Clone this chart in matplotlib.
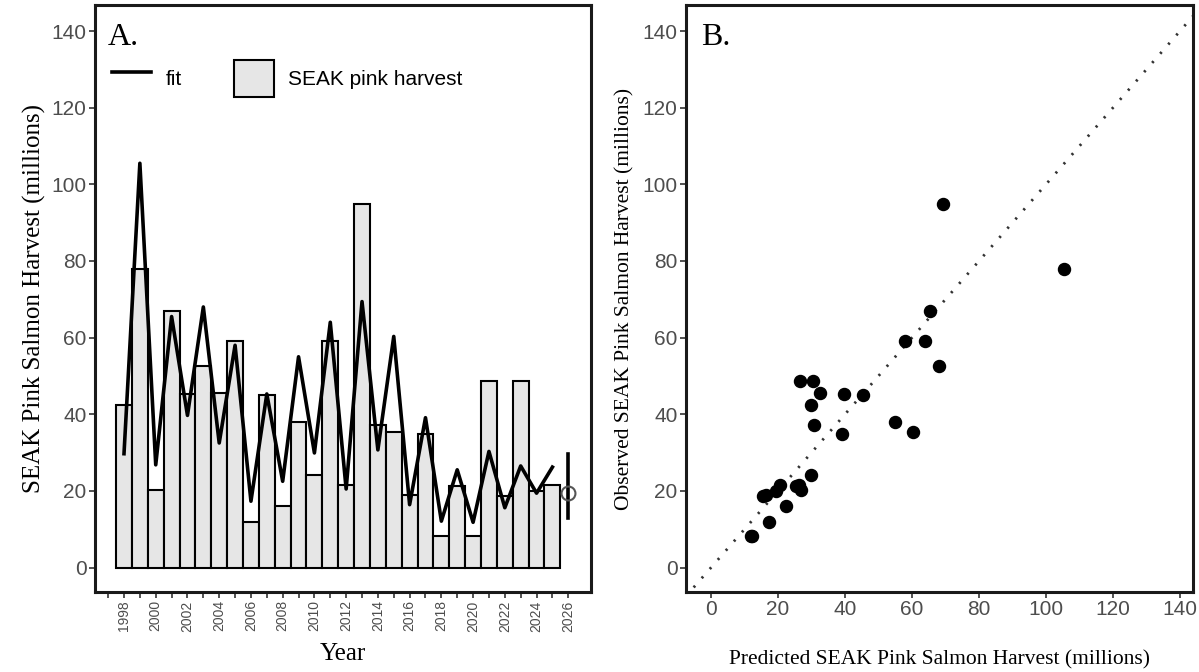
import matplotlib
matplotlib.use("Agg")
import matplotlib.pyplot as plt
from matplotlib.lines import Line2D
from matplotlib.patches import Patch
import numpy as np

# harvest (millions) and model fit, 1998-2025, plus 2026 forecast
years = [1998, 1999, 2000, 2001, 2002, 2003, 2004, 2005, 2006, 2007,
         2008, 2009, 2010, 2011, 2012, 2013, 2014, 2015, 2016, 2017,
         2018, 2019, 2020, 2021, 2022, 2023, 2024, 2025]
harvest = [42.5, 78.0, 20.3, 67.0, 45.3, 52.5, 45.5, 59.2, 11.8, 44.9,
           16.0, 38.1, 24.2, 59.0, 21.5, 94.9, 37.3, 35.3, 18.8, 34.8,
           8.2, 21.4, 8.2, 48.6, 18.6, 48.6, 19.9, 21.5]
fit = [29.7, 105.5, 26.8, 65.5, 39.7, 68.0, 32.5, 58.0, 17.3, 45.3,
       22.5, 55.0, 29.9, 64.0, 20.5, 69.4, 30.7, 60.3, 16.4, 39.1,
       12.1, 25.5, 11.8, 30.3, 15.6, 26.5, 19.4, 26.2]
fc_year = 2026
fc_mean = 19.5
fc_lo = 13.0
fc_hi = 29.7

year_ticks = list(range(1997, 2027))
year_labels = [str(y) if y % 2 == 0 else "" for y in year_ticks]
harv_ticks = [0, 20, 40, 60, 80, 100, 120, 140]

serif = "Liberation Serif"
sans = "Liberation Sans"
tick_col = "#4d4d4d"

fig = plt.figure(figsize=(11.99, 6.72), dpi=100)
axA = fig.add_axes([0.0792, 0.119, 0.4137, 0.8735])
axB = fig.add_axes([0.5721, 0.119, 0.4229, 0.8735])

# ---- panel A: bars + fit line
axA.bar(years, harvest, width=1.0, color="#e6e6e6", edgecolor="black",
        linewidth=1.5, zorder=2)
axA.plot(years, fit, color="black", linewidth=2.6, zorder=3)
axA.plot([fc_year, fc_year], [fc_lo, fc_hi], color="black", linewidth=2.6, zorder=3)
axA.plot([fc_year], [fc_mean], marker="o", markersize=10, markerfacecolor="none",
         markeredgecolor="#555555", markeredgewidth=1.5, zorder=4)

axA.set_xlim(1996.17, 2027.43)
axA.set_ylim(-6.4, 146.8)
axA.set_xticks(year_ticks)
axA.set_xticklabels(year_labels, rotation=90, fontsize=10, family=sans, color=tick_col)
axA.set_yticks(harv_ticks)
axA.set_yticklabels([str(v) for v in harv_ticks], fontsize=15, family=sans, color=tick_col)
axA.set_xlabel("Year", fontsize=18, family=serif, labelpad=8)
axA.set_ylabel("SEAK Pink Salmon Harvest (millions)", fontsize=18, family=serif, labelpad=4)
axA.text(0.026, 0.97, "A.", transform=axA.transAxes, fontsize=23, family=serif,
         va="top", ha="left")

handles = [Line2D([0], [0], color="black", linewidth=2.6),
           Patch(facecolor="#e6e6e6", edgecolor="black", linewidth=1.5)]
axA.legend(handles, ["fit", "SEAK pink harvest"], loc="upper left",
           bbox_to_anchor=(0.034, 0.907), ncol=2, frameon=False,
           prop={"family": sans, "size": 15}, handlelength=1.9, handleheight=2.4,
           handletextpad=0.7, columnspacing=2.5, borderpad=0, borderaxespad=0)

# ---- panel B: observed vs predicted
lim_lo, lim_hi = -10, 160
axB.plot([lim_lo, lim_hi], [lim_lo, lim_hi], color="#333333", linewidth=2,
         linestyle=(0, (0.8, 3.6)), zorder=1)
axB.scatter(fit, harvest, s=75, color="black", zorder=3)
axB.set_xlim(-7.5, 143.9)
axB.set_ylim(-6.4, 146.8)
axB.set_xticks(harv_ticks)
axB.set_xticklabels([str(v) for v in harv_ticks], fontsize=15, family=sans, color=tick_col)
axB.set_yticks(harv_ticks)
axB.set_yticklabels([str(v) for v in harv_ticks], fontsize=15, family=sans, color=tick_col)
axB.set_xlabel("Predicted SEAK Pink Salmon Harvest (millions)", fontsize=15.5,
               family=serif, labelpad=22)
axB.set_ylabel("Observed SEAK Pink Salmon Harvest (millions)", fontsize=15.5,
               family=serif, labelpad=6)
axB.text(0.03, 0.97, "B.", transform=axB.transAxes, fontsize=23, family=serif,
         va="top", ha="left")

for ax in (axA, axB):
    for sp in ax.spines.values():
        sp.set_linewidth(2.2)
        sp.set_color("#1a1a1a")
    ax.tick_params(direction="out", length=4, width=1.2, color="#333333", pad=2)

fig.savefig("out.png", dpi=100)
